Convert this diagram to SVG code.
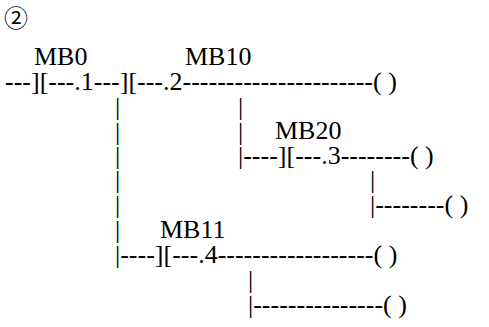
<svg xmlns="http://www.w3.org/2000/svg" width="489" height="327" viewBox="0 0 489 327">
<style>
text{font-family:"Liberation Serif",Tinos,"Times New Roman","DejaVu Serif",serif;font-size:26px;fill:#000}
.c{font-family:"Noto Sans CJK SC","DejaVu Sans",sans-serif;font-size:24px}
</style>
<rect width="489" height="327" fill="#fff"/>
<g id="title"><text class="c" x="4" y="27">②</text></g>
<g id="labels">
<text x="34" y="65">MB0</text>
<text x="185" y="65">MB10</text>
<text x="275" y="139">MB20</text>
<text x="160" y="238">MB11</text>
</g>
<g id="connectors">
<text x="5" y="90">---][---.1---][---.2----------------------( )</text>
<text><tspan x="115" y="115">|</tspan><tspan x="115" y="140">|</tspan><tspan x="115" y="164">|</tspan><tspan x="115" y="188">|</tspan><tspan x="115" y="213">|</tspan><tspan x="115" y="238">|</tspan></text>
<text><tspan x="238" y="115">|</tspan><tspan x="238" y="140">|</tspan></text>
<text x="238" y="164">|----][---.3--------( )</text>
<text x="370" y="188">|</text>
<text x="370" y="213">|--------( )</text>
<text x="115" y="263">|----][---.4------------------( )</text>
<text x="248" y="288">|</text>
<text x="248" y="313">|---------------( )</text>
</g>
</svg>
